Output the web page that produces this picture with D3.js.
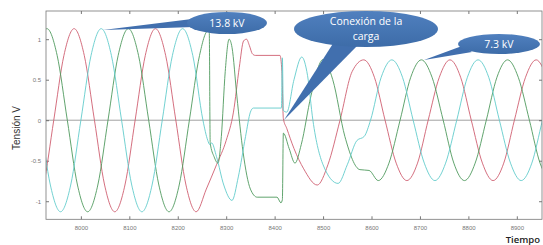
<!DOCTYPE html>
<html><head><meta charset="utf-8">
<script src="https://cdn.jsdelivr.net/npm/d3@7"></script>
<style>
html,body{margin:0;padding:0;background:#fff;}
svg{display:block;}
</style></head>
<body>
<svg id="c" width="543" height="245"></svg>
<script>
// ---- data ----
const xTicks = [8000, 8100, 8200, 8300, 8400, 8500, 8600, 8700, 8800, 8900];
const yTicks = [-1, -0.5, 0, 0.5, 1];
const yTickLabels = ["-1", "-0.5", "0", "0.5", "1"];
const xDomain = [7928, 8952];
const yDomain = [-1.223, 1.348];

const faseRoja = [
  [7902,-1.13],[7923,-0.80],[7944,0],[7965,0.80],[7986,1.13],[8007,0.80],[8028,0],[8049,-0.80],
  [8070,-1.13],[8091,-0.80],[8112,0],[8133,0.80],[8154,1.13],[8175,0.80],[8196,0],[8217,-0.80],
  [8238,-1.13],[8259,-0.85],[8280,-0.55],[8300,-0.25],[8315,0.1],[8327,0.65],[8336,0.98],[8342,1.0],
  [8348,0.92],[8354,0.82],[8360,0.80],[8411,0.80],[8415,0.6],[8418,0.02],[8425,-0.1],[8440,-0.35],
  [8460,-0.6],[8488,-0.80],[8510,-0.55],[8535,0.0],[8560,0.6],[8584,0.745],[8606,0.53],[8628,0],
  [8651,-0.53],[8673,-0.745],[8695,-0.53],[8717,0],[8740,0.53],[8762,0.745],[8784,0.53],[8806,0],
  [8829,-0.53],[8851,-0.745],[8873,-0.53],[8895,0],[8918,0.53],[8940,0.745],[8962,0.53]
];
const faseCian = [
  [7895,0.80],[7916,0],[7937,-0.80],[7958,-1.13],[7979,-0.80],[8000,0],[8021,0.80],[8042,1.13],
  [8063,0.80],[8084,0],[8105,-0.80],[8126,-1.13],[8147,-0.80],[8168,0],[8189,0.80],[8210,1.13],
  [8231,0.80],[8252,0],[8262,-0.25],[8266,-0.30],[8270,-0.28],[8280,-0.45],[8295,-0.8],[8312,-0.99],
  [8325,-0.7],[8340,-0.2],[8350,0.1],[8356,0.15],[8414,0.15],[8416,0.77],[8418,0.12],[8425,0.1],
  [8440,0.5],[8456,0.78],[8468,0.55],[8479,0.0],[8500,-0.55],[8531,-0.78],[8550,-0.55],[8570,-0.25],
  [8585,-0.2],[8598,0.0],[8620,0.53],[8642,0.745],[8664,0.53],[8686,0],[8709,-0.53],[8731,-0.745],
  [8753,-0.53],[8776,0],[8798,0.53],[8820,0.745],[8842,0.53],[8864,0],[8887,-0.53],[8909,-0.745],
  [8931,-0.53],[8953,0],[8976,0.53]
];
const faseVerde = [
  [7909,0.80],[7930,1.13],[7951,0.80],[7972,0],[7993,-0.80],[8014,-1.13],[8035,-0.80],[8056,0],
  [8077,0.80],[8098,1.13],[8119,0.80],[8140,0],[8161,-0.80],[8182,-1.13],[8203,-0.80],[8224,0],
  [8245,0.80],[8262,1.10],[8265,1.10],[8267,-0.28],[8275,-0.45],[8283,-0.53],[8290,-0.2],[8298,0.6],
  [8306,1.0],[8312,0.9],[8322,0.3],[8335,-0.4],[8350,-0.85],[8364,-0.95],[8405,-0.95],[8413,-1.02],
  [8416,-0.98],[8418,-0.16],[8430,-0.35],[8442,-0.53],[8455,-0.3],[8475,0.3],[8500,0.75],[8520,0.5],
  [8545,-0.2],[8576,-0.61],[8595,-0.62],[8614,-0.745],[8636,-0.53],[8659,0],[8681,0.53],[8703,0.745],
  [8725,0.53],[8748,0],[8770,-0.53],[8792,-0.745],[8814,-0.53],[8837,0],[8859,0.53],[8881,0.745],
  [8903,0.53],[8926,0],[8948,-0.53],[8970,-0.745]
];
const series = [
  {name: "roja", data: faseRoja, color: "#cf5f70"},
  {name: "verde", data: faseVerde, color: "#4f9a5e"},
  {name: "cian", data: faseCian, color: "#62cccc"}
];
const callouts = [
  {lines: ["13.8 kV"], cx: 227, cy: 23, rx: 40, ry: 11, tail: [[192,19],[194,27],[103,30]]},
  {lines: ["Conexión de la", "carga"], cx: 366, cy: 29, rx: 72, ry: 18, tail: [[334,42],[358,45],[284,120]]},
  {lines: ["7.3 kV"], cx: 499, cy: 44, rx: 41, ry: 10, tail: [[462,46],[472,52],[424,60]]}
];

// ---- layout ----
const svg = d3.select("#c");
const L = 46, R = 542, T = 11, B = 219.3;
const x = d3.scaleLinear().domain(xDomain).range([L, R]);
const y = d3.scaleLinear().domain(yDomain).range([B, T]);

svg.append("defs").append("clipPath").attr("id","clip")
  .append("rect").attr("x",L).attr("y",T).attr("width",R-L).attr("height",B-T);

// zero line
svg.append("line").attr("x1",L).attr("x2",R).attr("y1",y(0)).attr("y2",y(0))
  .attr("stroke","#8a8a8a").attr("stroke-width",0.8);

// axes (inward ticks)
const fontTick = "6px 'Liberation Sans', Arial, sans-serif";
const gB = svg.append("g").attr("transform",`translate(0,${B})`)
  .call(d3.axisBottom(x).tickValues(xTicks).tickSizeInner(-3).tickSizeOuter(0).tickPadding(6).tickFormat(d3.format("d")));
const gT = svg.append("g").attr("transform",`translate(0,${T})`)
  .call(d3.axisTop(x).tickValues(xTicks).tickSizeInner(-3).tickSizeOuter(0).tickFormat(""));
const gL = svg.append("g").attr("transform",`translate(${L},0)`)
  .call(d3.axisLeft(y).tickValues(yTicks).tickSizeInner(-3).tickSizeOuter(0).tickPadding(5)
    .tickFormat((d,i)=>yTickLabels[i]));
const gR = svg.append("g").attr("transform",`translate(${R},0)`)
  .call(d3.axisRight(y).tickValues(yTicks).tickSizeInner(-3).tickSizeOuter(0).tickFormat(""));
[gB,gT,gL,gR].forEach(g=>{
  g.select(".domain").remove();
  g.selectAll(".tick line").attr("stroke","#555").attr("stroke-width",0.8);
  g.selectAll(".tick text").attr("fill","#777").style("font",fontTick);
});

// series
const line = d3.line().x(d=>x(d[0])).y(d=>y(d[1])).curve(d3.curveMonotoneX);
const gS = svg.append("g").attr("clip-path","url(#clip)");
series.forEach(s=>{
  gS.append("path").attr("d",line(s.data)).attr("fill","none")
    .attr("stroke",s.color).attr("stroke-width",0.9);
});

// box
svg.append("rect").attr("x",L).attr("y",T).attr("width",R-L).attr("height",B-T)
  .attr("fill","none").attr("stroke","#777").attr("stroke-width",0.8);

// axis titles
svg.append("text").attr("transform",`translate(20,128) rotate(-90)`)
  .attr("text-anchor","middle").attr("fill","#333")
  .style("font","10px 'Liberation Sans Narrow', 'Arial Narrow', sans-serif").text("Tensión V");
svg.append("text").attr("x",540).attr("y",243).attr("text-anchor","end").attr("fill","#222")
  .style("font","600 9.5px 'Open Sans', sans-serif").text("Tiempo");

// callouts
const grad = svg.select("defs").append("linearGradient").attr("id","cg").attr("x1",0).attr("y1",0).attr("x2",0).attr("y2",1);
grad.append("stop").attr("offset","0%").attr("stop-color","#5080bf");
grad.append("stop").attr("offset","100%").attr("stop-color","#3d6ca8");
callouts.forEach(c=>{
  const g = svg.append("g");
  g.append("path").attr("d", d3.line()(c.tail)+"Z").attr("fill","#416fae");
  g.append("ellipse").attr("cx",c.cx).attr("cy",c.cy).attr("rx",c.rx).attr("ry",c.ry).attr("fill","url(#cg)");
  const n = c.lines.length;
  const gap = 14.5;
  c.lines.forEach((t,i)=>{
    g.append("text").attr("x",c.cx).attr("y",c.cy + 3.5 + (i-(n-1)/2)*gap)
      .attr("text-anchor","middle").attr("fill","#fff")
      .style("font","10.5px 'Open Sans', sans-serif").text(t);
  });
});
</script>
</body></html>
